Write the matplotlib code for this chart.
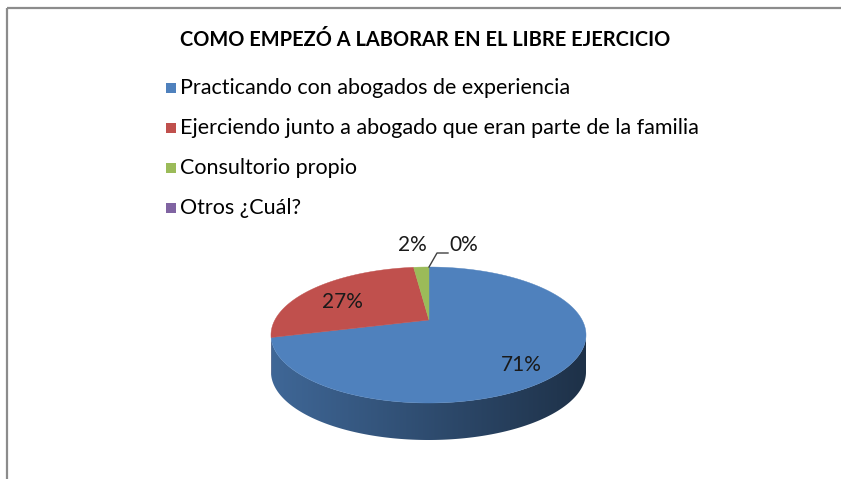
import numpy as np
import matplotlib
matplotlib.use("Agg")
import matplotlib.pyplot as plt
from matplotlib.patches import Polygon, Rectangle
from matplotlib.lines import Line2D
import matplotlib.colors as mcolors

# ---------------- data ----------------
title = "COMO EMPEZÓ A LABORAR EN EL LIBRE EJERCICIO"
categories = [
    "Practicando con abogados de experiencia",
    "Ejerciendo junto a abogado que eran parte de la familia",
    "Consultorio propio",
    "Otros ¿Cuál?",
]
values = [71, 27, 2, 0]
labels = ["71%", "27%", "2%", "0%"]
colors = ["#4F81BD", "#C0504D", "#9BBB59", "#8064A2"]

W, H = 841, 479
fig = plt.figure(figsize=(W / 100, H / 100), dpi=100)
ax = fig.add_axes([0, 0, 1, 1])
ax.axis("off")

# frame of chart area
ax.add_patch(Rectangle((7, 8), W + 20, H + 20, fill=False, ec="#8c8c8c", lw=1.6))

FONT = ["Lato", "DejaVu Sans"]

ax.text(425, 40, title, ha="center", va="center", fontsize=14.4,
        fontweight="bold", family=FONT, color="#000000")

# legend
leg_y = [88, 128, 168, 208]
for c, lab, y in zip(colors, categories, leg_y):
    ax.add_patch(Rectangle((166, y - 5), 10, 10, fc=c, ec="none"))
    ax.text(180, y, lab, ha="left", va="center", fontsize=15.5, family=FONT,
            color="#000000")

# ---------------- 3D pie ----------------
cx, cy = 428.5, 335.0      # centre of top ellipse (pixels)
a, b = 157.5, 68.0         # semi axes
apex = np.array([429.0, 320.0])
depth = 37.0

def rim_theta(phi_deg):
    phi = np.radians(phi_deg)
    d = np.array([a * np.sin(phi), -b * np.cos(phi)])
    u, v = (apex[0] - cx) / a, (apex[1] - cy) / b
    du, dv = d[0] / a, d[1] / b
    A = du * du + dv * dv
    B = u * du + v * dv
    C = u * u + v * v - 1
    t = (-B + np.sqrt(B * B - A * C)) / A
    p = apex + t * d
    return np.degrees(np.arctan2((p[0] - cx) / a, -(p[1] - cy) / b))

def rim(theta_deg, off=0.0):
    th = np.radians(theta_deg)
    return np.column_stack([cx + a * np.sin(th), cy - b * np.cos(th) + off])

total = float(sum(values))
bounds = np.concatenate([[0], np.cumsum(values)]) / total * 360.0
thetas = [rim_theta(p) for p in bounds]
th_un = [thetas[0]]
for t in thetas[1:]:
    while t < th_un[-1] - 1e-6:
        t += 360
    th_un.append(t)

# side faces with horizontal shading gradient
xs = np.linspace(0, 1, 256)
fac = 0.80 - 0.42 * xs
for i, col in enumerate(colors):
    t0, t1 = th_un[i], th_un[i + 1]
    if t1 - t0 <= 0:
        continue
    for k in (-360, 0, 360):
        s0, s1 = max(t0 + k, 90), min(t1 + k, 270)
        if s1 <= s0:
            continue
        ts = np.linspace(s0, s1, max(3, int((s1 - s0) * 2)))
        poly_pts = np.vstack([rim(ts), rim(ts[::-1], depth)])
        poly = Polygon(poly_pts, closed=True, fc="none", ec="none")
        ax.add_patch(poly)
        rgb = np.array(mcolors.to_rgb(col))
        grad = (fac[:, None] * rgb[None, :])[None, :, :]
        im = ax.imshow(grad, extent=(cx - a, cx + a, cy + b + depth + 2, cy - 2),
                       aspect="auto", interpolation="bilinear", zorder=1)
        im.set_clip_path(poly)

# top faces
for i, col in enumerate(colors):
    t0, t1 = th_un[i], th_un[i + 1]
    if t1 - t0 <= 0:
        continue
    ts = np.linspace(t0, t1, max(3, int((t1 - t0) * 2)))
    pts = np.vstack([apex, rim(ts)])
    ax.add_patch(Polygon(pts, closed=True, fc=col, ec=col, lw=0.3, zorder=2))

# data labels
lab_pos = [(521, 365), (342, 302), (412, 245), (464, 245)]
for lab, (x, y) in zip(labels, lab_pos):
    ax.text(x, y, lab, ha="center", va="center", fontsize=15, family=FONT,
            color="#1a1a1a", zorder=3)

# leader line for the zero slice
p0 = rim(np.array([th_un[3]]))[0]
ax.add_line(Line2D([p0[0], 437, 448], [p0[1], 253, 253], color="#404040", lw=1.0,
                   zorder=3))

ax.set_xlim(0, W)
ax.set_ylim(H, 0)

fig.savefig("out.png", dpi=100, facecolor="white")
